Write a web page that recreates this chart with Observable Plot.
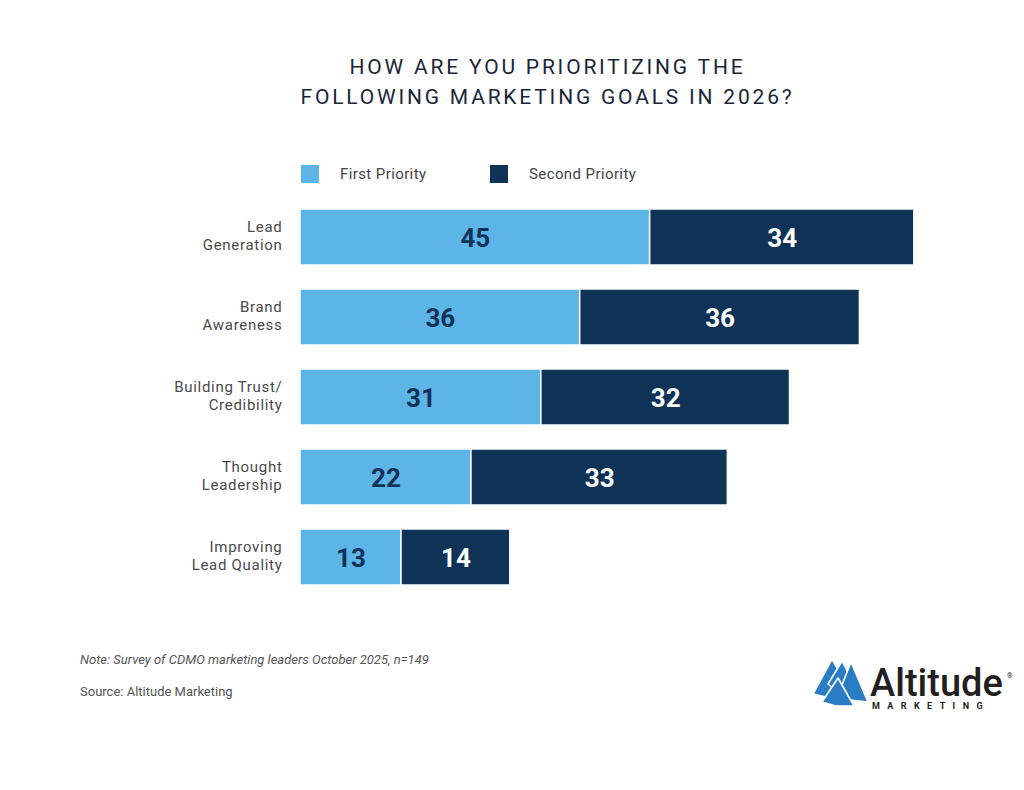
<!DOCTYPE html>
<html>
<head>
<meta charset="utf-8">
<script src="https://cdn.jsdelivr.net/npm/d3@7"></script>
<script src="https://cdn.jsdelivr.net/npm/@observablehq/plot@0.6"></script>
<style>
  body { margin: 0; background: #fff; font-family: Roboto, "Noto Sans", sans-serif; }
  #page { position: relative; width: 1024px; height: 790px; overflow: hidden; background: #fff; }
  #title { position: absolute; left: 0; top: 52px; width: 1095px; text-align: center;
           font-size: 21px; line-height: 30px; letter-spacing: 2.8px; color: #1a2638; font-weight: 400; }
  #chart { position: absolute; left: 0; top: 0; }
  .legend { position: absolute; top: 165px; display: flex; align-items: center; font-size: 15px; color: #444; letter-spacing: 0.4px; }
  .legend .sw { width: 18px; height: 18px; margin-right: 21px; }
  .note { position: absolute; left: 80px; font-size: 13px; color: #555; }
  #logo { position: absolute; left: 810px; top: 654px; }
  .goal-labels text { letter-spacing: 0.7px; }
</style>
</head>
<body>
<div id="page">
  <div id="title">HOW ARE YOU PRIORITIZING THE<br>FOLLOWING MARKETING GOALS IN 2026?</div>
  <div id="legend"></div>
  <div id="chart"></div>
  <div class="note" style="top:652px;font-style:italic">Note: Survey of CDMO marketing leaders October 2025, n=149</div>
  <div class="note" style="top:684px">Source: Altitude Marketing</div>
  <svg id="logo" width="214" height="62" viewBox="0 0 214 62">
    <g fill="#2a7dc5" stroke="#fff" stroke-width="1.6" stroke-linejoin="round">
      <polygon points="3,40 22,5 36,30 20,44"/>
      <polygon points="18,30 32,7 46,34 30,40"/>
      <polygon points="30,36 41,8 58,48 40,46"/>
      <polygon points="12,48 28,24 44,52 26,52"/>
    </g>
    <text x="60" y="42" font-family="Roboto, sans-serif" font-size="38" font-weight="500" fill="#231f20">Altitude</text>
    <text x="197" y="24" font-family="Roboto, sans-serif" font-size="7" fill="#231f20">®</text>
    <text x="62" y="55" font-family="Roboto, sans-serif" font-size="9" font-weight="700" letter-spacing="7.4" fill="#231f20">MARKETING</text>
  </svg>
</div>
<script>
// Survey results: share of respondents ranking each goal first / second
const goals = [
  "Lead\nGeneration",
  "Brand\nAwareness",
  "Building Trust/\nCredibility",
  "Thought\nLeadership",
  "Improving\nLead Quality"
];
const firstPriority = [45, 36, 31, 22, 13];
const secondPriority = [34, 36, 32, 33, 14];
const seriesNames = ["First Priority", "Second Priority"];
const seriesColors = ["#5db4e6", "#0f3357"];

const rows = goals.flatMap((goal, i) => [
  { goal, series: seriesNames[0], value: firstPriority[i] },
  { goal, series: seriesNames[1], value: secondPriority[i] }
]);

// Legend above the bars
const legend = document.getElementById("legend");
[[301, 0], [490, 1]].forEach(([left, k]) => {
  const item = document.createElement("div");
  item.className = "legend";
  item.style.left = left + "px";
  item.innerHTML = `<div class="sw" style="background:${seriesColors[k]}"></div><span>${seriesNames[k]}</span>`;
  legend.appendChild(item);
});

const chart = Plot.plot({
  width: 1024,
  height: 620,
  marginTop: 207,
  marginBottom: 33,
  marginLeft: 300,
  marginRight: 0,
  style: { fontFamily: "Roboto, sans-serif", background: "transparent" },
  x: { domain: [0, 100], range: [300, 1077], axis: null },
  y: { domain: goals, paddingInner: 0.3, paddingOuter: 0, label: null },
  color: { domain: seriesNames, range: seriesColors },
  marks: [
    Plot.barX(rows, Plot.stackX({
      x: "value", y: "goal", fill: "series", stroke: "#fff", strokeWidth: 1.5
    })),
    Plot.text(rows, Plot.stackX({
      x: "value", y: "goal", z: "series",
      text: d => d.series === seriesNames[0] ? String(d.value) : "",
      fill: seriesColors[1], fontSize: 26, fontWeight: 700, dy: 1
    })),
    Plot.text(rows, Plot.stackX({
      x: "value", y: "goal", z: "series",
      text: d => d.series === seriesNames[1] ? String(d.value) : "",
      fill: "#fff", fontSize: 26, fontWeight: 700, dy: 1
    })),
    Plot.axisY({
      tickSize: 0, tickPadding: 18, fontSize: 15, fill: "#4a4a4a",
      lineHeight: 1.2, label: null, className: "goal-labels", dy: -2
    })
  ]
});
document.getElementById("chart").appendChild(chart);
</script>
</body>
</html>
